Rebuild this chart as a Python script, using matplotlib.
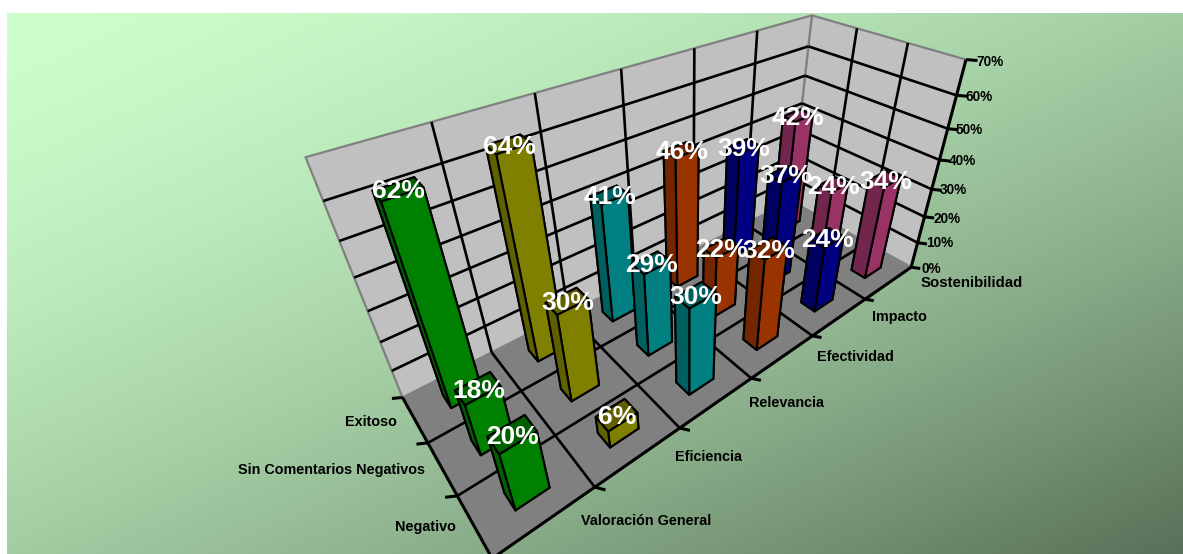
import numpy as np
import matplotlib
matplotlib.use("Agg")
import matplotlib.pyplot as plt
from mpl_toolkits.mplot3d.art3d import Poly3DCollection, Line3DCollection

plt.rcParams['font.family'] = ['Liberation Sans', 'DejaVu Sans']

# ---- data ----
categories = ["Valoración General", "Eficiencia", "Relevancia", "Efectividad", "Impacto", "Sostenibilidad"]
series = ["Negativo", "Sin Comentarios Negativos", "Exitoso"]
negativo = [20, 6, 30, 32, 24, 34]
sin_comentarios = [18, 30, 29, 22, 37, 24]
exitoso = [62, 64, 41, 46, 39, 42]
z_ticks = [0, 10, 20, 30, 40, 50, 60, 70]

# ---- style ----
W, H = 1183, 554
front_colors = ["#008000", "#808000", "#008080", "#993300", "#000080", "#993366"]
dark_colors = ["#006000", "#606000", "#006060", "#732600", "#000060", "#73264D"]
BAR_W, BAR_D = 0.34, 0.30
CX, CY = 0.51, 0.51

# camera: box corners (x, y, z) and where they appear in the picture (pixels)
corner_world = [(0, 0, 0), (6, 0, 0), (0, 3, 0), (6, 3, 0), (0, 3, 70), (6, 3, 70), (6, 0, 70)]
corner_pixel = [(492, 558), (912, 268), (403, 398), (790, 200), (305, 157), (813, 16), (965, 59)]


def fit_camera(world, pixel):
    rows = []
    for (x, y, z), (u, v) in zip(world, pixel):
        v = H - v
        X = [x, y, z, 1.0]
        rows.append(X + [0, 0, 0, 0] + [-u * c for c in X])
        rows.append([0, 0, 0, 0] + X + [-v * c for c in X])
    P = np.linalg.svd(np.array(rows, float))[2][-1].reshape(3, 4)
    if P[2] @ np.array([3, 1.5, 0, 1]) < 0:
        P = -P
    return P


P = fit_camera(corner_world, corner_pixel)


def to_figure(x, y, z):
    """Project a chart point to figure fractions."""
    u, v, w = P @ np.array([x, y, z, 1.0])
    return u / w / W, v / w / H


fig = plt.figure(figsize=(W / 100, H / 100), dpi=100, facecolor="white")
rect = [7 / W, 0, (W - 7) / W, (H - 13) / H]

# gradient background
bg = fig.add_axes(rect, zorder=0)
bg.set_axis_off()
xx, yy = np.meshgrid(np.linspace(0, 1, 400), np.linspace(0, 1, 200))
t = ((xx + yy) / 2)[..., None] ** 1.5
c0 = np.array([204, 255, 204]) / 255
c1 = np.array([88, 112, 88]) / 255
bg.imshow(c0 + (c1 - c0) * t, aspect="auto", extent=(0, 1, 1, 0))

ax = fig.add_axes(rect, projection="3d", zorder=1, computed_zorder=False)
ax.set_axis_off()
ax.patch.set_facecolor("none")
ax.apply_aspect = lambda position=None: None


def camera_matrix():
    inv = ax.transData.inverted()
    (x0, y0), (x1, y1) = inv.transform([(0, 0), (1, 1)])
    sx, sy = x1 - x0, y1 - y0
    return np.vstack([sx * P[0] + x0 * P[2], sy * P[1] + y0 * P[2],
                      [0, 0, 0, -1], P[2]])


ax.get_proj = camera_matrix
ax.set_xlim(0, 6)
ax.set_ylim(0, 3)
ax.set_zlim(0, 70)

nx, ny, zmax = len(categories), len(series), z_ticks[-1]

# walls and floor
GRAY = "#808080"
ax.add_collection3d(Poly3DCollection(
    [[(0, ny, 0), (nx, ny, 0), (nx, ny, zmax), (0, ny, zmax)],
     [(nx, ny, 0), (nx, 0, 0), (nx, 0, zmax), (nx, ny, zmax)]],
    facecolors="#C0C0C0", edgecolors=GRAY, linewidths=1.6, zorder=1))
ax.add_collection3d(Poly3DCollection(
    [[(0, 0, 0), (nx, 0, 0), (nx, ny, 0), (0, ny, 0)]],
    facecolors=GRAY, edgecolors=GRAY, linewidths=1, zorder=1))

# grid lines
grid = []
for z in z_ticks[1:-1]:
    grid.append([(0, ny, z), (nx, ny, z)])
    grid.append([(nx, ny, z), (nx, 0, z)])
for i in range(1, nx):
    grid.append([(i, ny, 0), (i, ny, zmax)])
    grid.append([(i, 0, 0), (i, ny, 0)])
for j in range(1, ny):
    grid.append([(nx, j, 0), (nx, j, zmax)])
    grid.append([(0, j, 0), (nx, j, 0)])
ax.add_collection3d(Line3DCollection(grid, colors="black", linewidths=1.9, zorder=2))

# axis lines and horizontal tick marks
axes_lines = [[(0, 0, 0), (nx, 0, 0)], [(0, 0, 0), (0, ny, 0)], [(nx, 0, 0), (nx, 0, zmax)]]
for z in z_ticks:
    axes_lines.append([(nx, 0, z), (nx + 0.07, -0.13, z)])
for i in range(1, nx):
    axes_lines.append([(i, 0, 0), (i + 0.06, -0.12, 0)])
for j in range(1, ny + 1):
    axes_lines.append([(0, j, 0), (-0.09, j + 0.08, 0)])
ax.add_collection3d(Line3DCollection(axes_lines, colors="black", linewidths=2.2, zorder=3))

# bars, farthest first
rows = [negativo, sin_comentarios, exitoso]
order = 10
for j in range(ny - 1, -1, -1):
    for i in range(nx - 1, -1, -1):
        v = rows[j][i]
        f, d = front_colors[i], dark_colors[i]
        ax.bar3d(i + CX - BAR_W / 2, j + CY - BAR_D / 2, 0, BAR_W, BAR_D, v,
                 color=[d, d, f, f, d, f], shade=False,
                 edgecolor="black", linewidth=1.5, zorder=order)
        order += 1

# data labels
for j in range(ny - 1, -1, -1):
    for i in range(nx - 1, -1, -1):
        v = rows[j][i]
        fx, fy = to_figure(i + CX, j + CY, v)
        fig.text(fx + 0.5 / W, fy - 2.5 / H, f"{v}%", color="white", fontsize=19, fontweight="bold",
                 ha="center", va="center", zorder=10)

# tick labels (pixel placement of the labels)
x_label_pos = [(646, 521), (708, 457), (786, 403), (855, 357), (899, 317), (972, 283)]
y_label_pos = [(371, 422), (332, 470), (425, 527)]
z_label_pos = [(921, 269), (926, 243), (933, 219), (940, 190), (949, 161), (956, 130), (966, 97), (976, 62)]
for s, (px, py) in zip(categories, x_label_pos):
    fs = 10.8 if s == "Sostenibilidad" else 10.4
    fig.text(px / W, 1 - py / H, s, fontsize=fs, fontweight="bold", ha="center", va="center", color="black", zorder=5)
for s, (px, py) in zip(series[::-1], y_label_pos):
    fig.text(px / W, 1 - py / H, s, fontsize=10.4, fontweight="bold", ha="center", va="center", color="black", zorder=5)
for z, (px, py) in zip(z_ticks, z_label_pos):
    fig.text(px / W, 1 - py / H, f"{z}%", fontsize=9.8, fontweight="bold", ha="left", va="center", color="black", zorder=5)

fig.savefig("out.png", dpi=100, facecolor="white")
